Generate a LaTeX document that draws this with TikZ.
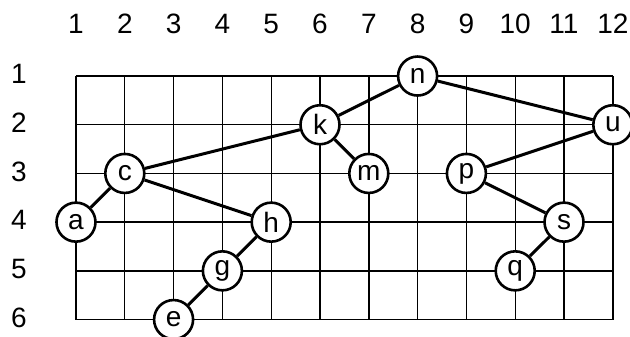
\documentclass[tikz,border=0pt]{standalone}
\usepackage{fontspec}
\setmainfont{Liberation Sans}
\usepackage{tikz}

\begin{document}
\begin{tikzpicture}[
    x=48.8pt, y=-48.7pt,
    gridline/.style={line width=1.4pt, black},
    vertex/.style={
        circle,
        draw,
        fill=white,
        line width=2.6pt,
        inner sep=0pt,
        minimum size=39pt,
        font=\fontsize{28}{28}\selectfont
    },
    axislabel/.style={
        inner sep=0pt,
        font=\fontsize{28}{28}\selectfont
    },
    edge/.style={line width=3pt}
]
\useasboundingbox (-0.557,-0.561) rectangle (12.352,6.339);

% grid and axis labels
\foreach \i in {1,...,12} {
    \draw[gridline] (\i,1) -- (\i,6);
    \node[axislabel] (col\i) at (\i,-0.07) {\i};
}
\foreach \j in {1,...,6} {
    \draw[gridline] (1,\j) -- (12,\j);
    \node[axislabel] (row\j) at (-0.17,\j-0.04) {\j};
}

% vertices
\node[vertex] (n) at (8,1) {n};
\node[vertex] (k) at (6,2) {k};
\node[vertex] (u) at (12,2) {u};
\node[vertex] (c) at (2,3) {c};
\node[vertex] (m) at (7,3) {m};
\node[vertex] (p) at (9,3) {p};
\node[vertex] (a) at (1,4) {a};
\node[vertex] (h) at (5,4) {h};
\node[vertex] (s) at (11,4) {s};
\node[vertex] (g) at (4,5) {g};
\node[vertex] (q) at (10,5) {q};
\node[vertex] (e) at (3,6) {e};

% edges
\draw[edge] (n) -- (k);
\draw[edge] (n) -- (u);
\draw[edge] (k) -- (c);
\draw[edge] (k) -- (m);
\draw[edge] (u) -- (p);
\draw[edge] (c) -- (a);
\draw[edge] (c) -- (h);
\draw[edge] (h) -- (g);
\draw[edge] (g) -- (e);
\draw[edge] (p) -- (s);
\draw[edge] (s) -- (q);
\end{tikzpicture}
\end{document}
